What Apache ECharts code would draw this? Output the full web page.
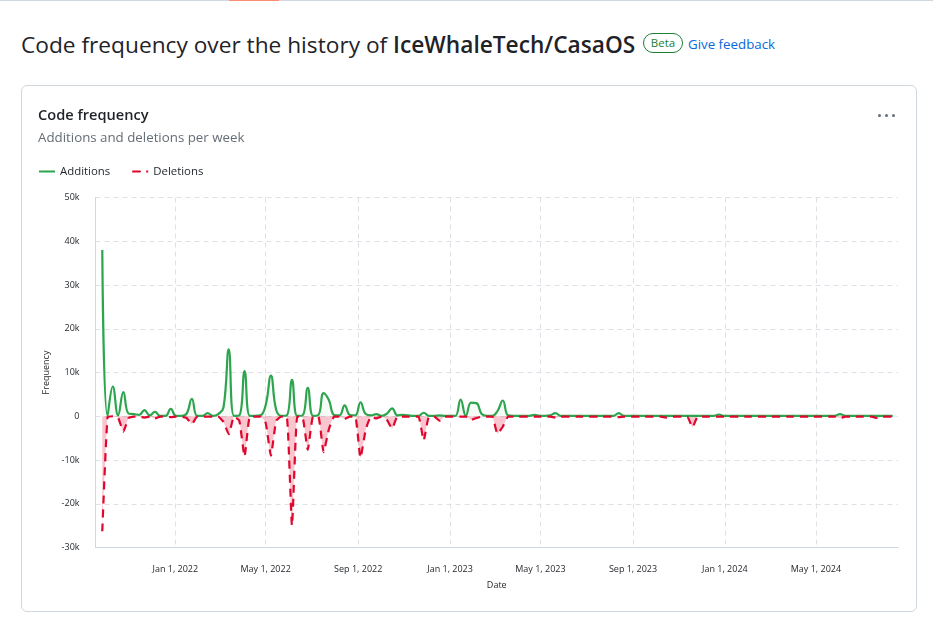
<!DOCTYPE html>
<html>
<head>
<meta charset="utf-8">
<title>Code frequency</title>
<script src="https://cdn.jsdelivr.net/npm/echarts@6/dist/echarts.min.js"></script>
<style>
html, body { margin: 0; padding: 0; background: #fff; }
body { width: 933px; height: 634px; overflow: hidden; position: relative; font-family: "Open Sans", "Noto Sans", sans-serif; color: #1f2328; }
.abs { position: absolute; white-space: nowrap; }
#topline { left: 0; top: 0; width: 933px; height: 1px; background: #d0d7de; }
#toporange { left: 229px; top: 0; width: 50px; height: 1px; background: #fd8c73; }
#heading { left: 21px; top: 29px; font-size: 22.7px; line-height: 32px; }
#heading b { font-weight: 600; }
#beta { left: 643px; top: 33px; width: 38px; height: 18px; line-height: 18px; border: 1px solid #1a7f37; border-radius: 10px; color: #1a7f37; font-size: 11.5px; font-weight: 500; text-align: center; }
#feedback { left: 688px; top: 34px; font-size: 13.3px; line-height: 20px; color: #0969da; }
#card { left: 21px; top: 85px; width: 894px; height: 525px; border: 1px solid #d0d7de; border-radius: 6px; }
#name { left: 38px; top: 103px; font-size: 14.6px; line-height: 22px; font-weight: 600; }
#sub { left: 38px; top: 127px; font-size: 13.3px; line-height: 20px; color: #656d76; }
#dots { left: 878px; top: 114px; width: 17px; height: 3px; }
#dots i { float: left; width: 3px; height: 3px; border-radius: 50%; background: #656d76; margin-right: 4px; }
#dots i:last-child { margin-right: 0; }
#chart { left: 0; top: 0; width: 933px; height: 634px; }
</style>
</head>
<body>
<div class="abs" id="topline"></div>
<div class="abs" id="toporange"></div>
<div class="abs" id="heading">Code frequency over the history of <b>IceWhaleTech/CasaOS</b></div>
<div class="abs" id="beta">Beta</div>
<div class="abs" id="feedback">Give feedback</div>
<div class="abs" id="card"></div>
<div class="abs" id="chart"></div>
<div class="abs" id="name">Code frequency</div>
<div class="abs" id="sub">Additions and deletions per week</div>
<div class="abs" id="dots"><i></i><i></i><i></i></div>
<script>
var firstWeek = Date.UTC(2021, 8, 26);
var weekMs = 7 * 24 * 3600 * 1000;
var tickDates = ['2022-01-01', '2022-05-01', '2022-09-01', '2023-01-01', '2023-05-01', '2023-09-01', '2024-01-01', '2024-05-01'];
var months = ['Jan', 'Feb', 'Mar', 'Apr', 'May', 'Jun', 'Jul', 'Aug', 'Sep', 'Oct', 'Nov', 'Dec'];

var additions = [
	38000, 100, 6800, 200, 5500, 600, 500, 300, 1400, 200,
	1000, 100, 100, 1700, 100, 100, 600, 4000, 100, 100,
	700, 100, 500, 2000, 15300, 100, 200, 10300, 100, 100,
	200, 2500, 9300, 1500, 100, 200, 8300, 100, 200, 6500,
	100, 300, 5300, 3700, 300, 200, 2500, 300, 200, 3200,
	500, 200, 500, 100, 600, 1800, 200, 300, 200, 100,
	100, 800, 100, 100, 200, 100, 100, 100, 3800, 100,
	3100, 3000, 500, 100, 100, 1200, 3600, 200, 100, 100,
	100, 100, 300, 100, 100, 200, 700, 100, 100, 100,
	100, 100, 100, 100, 100, 100, 100, 100, 700, 100,
	100, 100, 100, 100, 100, 100, 100, 100, 100, 100,
	100, 100, 100, 100, 100, 100, 100, 400, 100, 100,
	100, 100, 100, 100, 100, 100, 100, 100, 100, 100,
	100, 100, 100, 100, 100, 100, 100, 100, 100, 100,
	500, 100, 100, 100, 100, 100, 100, 100, 100, 100,
	100
];
var deletions = [
	-26300, -200, 0, -300, -3500, -400, -100, -100, -300, -100,
	-500, -100, -100, -200, -100, -100, -400, -1800, -100, -100,
	-100, -100, -100, -1300, -4100, -100, -1000, -9200, -100, -100,
	-100, -1500, -9000, -1000, -100, -100, -25000, -100, -200, -7700,
	-100, -100, -8200, -3000, -100, -100, -600, -100, -100, -9500,
	-3000, -100, -500, -100, -800, -2800, -100, -100, -100, -100,
	-100, -5500, -100, -100, -1000, -100, -100, -100, -100, -100,
	-800, -400, -100, -100, -100, -4000, -2400, -100, -100, -100,
	-100, -100, -100, -100, -100, -100, -300, -100, -100, -100,
	-100, -100, -100, -100, -100, -100, -100, -100, -200, -100,
	-100, -100, -100, -100, -100, -100, -100, -300, -100, -100,
	-100, -100, -2500, -100, -100, -100, -100, -100, -100, -100,
	-100, -100, -100, -100, -100, -100, -100, -100, -100, -100,
	-100, -100, -100, -100, -100, -100, -100, -100, -100, -100,
	-400, -100, -100, -100, -100, -100, -100, -400, -100, -100,
	-100
];

function pairs(values) {
	var out = [];
	for (var i = 0; i < values.length; i++) {
		out.push([firstWeek + i * weekMs, values[i]]);
	}
	return out;
}

var tickValues = tickDates.map(function (d) { return Date.parse(d); });

var chart = echarts.init(document.getElementById('chart'));
chart.setOption({
	animation: false,
	textStyle: { fontFamily: '"Open Sans", "Noto Sans", sans-serif' },
	legend: {
		left: 33,
		top: 161,
		itemWidth: 16,
		itemHeight: 2,
		itemGap: 21,
		textStyle: { fontSize: 11.4, color: '#1f2328' },
		data: ['Additions', 'Deletions']
	},
	grid: { left: 95.5, right: 35, top: 197.5, bottom: 86.5 },
	xAxis: {
		type: 'value',
		name: 'Date',
		nameLocation: 'middle',
		nameGap: 33,
		nameTextStyle: { fontSize: 9, color: '#1f2328' },
		min: Date.UTC(2021, 8, 17),
		max: Date.UTC(2024, 7, 18),
		axisLine: { onZero: false, lineStyle: { color: '#d0d7de', width: 1 } },
		axisTick: { show: false, customValues: tickValues },
		axisLabel: {
			customValues: tickValues,
			fontSize: 9,
			color: '#1f2328',
			margin: 17,
			formatter: function (v) {
				var d = new Date(v);
				return months[d.getUTCMonth()] + ' ' + d.getUTCDate() + ', ' + d.getUTCFullYear();
			}
		},
		splitLine: { show: true, lineStyle: { color: '#dde1e6', type: [5, 4], width: 1 } }
	},
	yAxis: {
		type: 'value',
		name: 'Frequency',
		nameLocation: 'middle',
		nameGap: 43,
		nameTextStyle: { fontSize: 9, color: '#1f2328' },
		min: -30000,
		max: 50000,
		interval: 10000,
		axisLine: { show: true, lineStyle: { color: '#d0d7de', width: 1 } },
		axisTick: { show: false },
		axisLabel: {
			fontSize: 9,
			color: '#1f2328',
			margin: 16,
			formatter: function (v) { return v === 0 ? '0' : (v / 1000) + 'k'; }
		},
		splitLine: { show: true, lineStyle: { color: '#dde1e6', type: [5, 4], width: 1 } }
	},
	series: [{
		name: 'Additions',
		type: 'line',
		data: pairs(additions),
		smooth: 0.45,
		symbol: 'none',
		itemStyle: { color: '#2da44e' },
		lineStyle: { color: '#2da44e', width: 2.2 },
		areaStyle: { color: '#2da44e', opacity: 0.04 }
	}, {
		name: 'Deletions',
		type: 'line',
		data: pairs(deletions),
		smooth: 0.15,
		symbol: 'none',
		itemStyle: { color: '#e0062d' },
		lineStyle: { color: '#e0062d', width: 2.2, type: [8, 6] },
		areaStyle: { color: '#e8304f', opacity: 0.28 }
	}]
});
</script>
</body>
</html>
